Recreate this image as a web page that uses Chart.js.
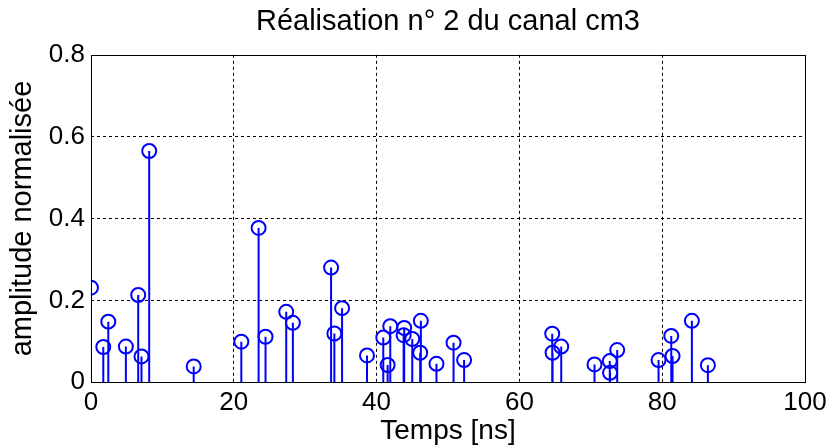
<!DOCTYPE html>
<html>
<head>
<meta charset="utf-8">
<script src="https://cdn.jsdelivr.net/npm/chart.js@4/dist/chart.umd.min.js"></script>
<style>
  html, body { margin: 0; padding: 0; background: #fff; }
  #wrap { width: 832px; height: 448px; }
</style>
</head>
<body>
<div id="wrap"><canvas id="myChart"></canvas></div>
<script>
// données
var temps = [0.0, 1.73, 2.43, 4.89, 6.62, 7.08, 8.16, 14.39, 21.06, 23.48, 24.45, 27.35, 28.28,
  33.63, 34.09, 35.17, 38.66, 40.94, 41.55, 41.92, 43.79, 43.87, 45.0, 46.11, 46.2, 48.39,
  50.78, 52.26, 64.6, 64.65, 65.86, 70.52, 72.66, 72.7, 73.7, 79.49, 81.27, 81.45, 84.16, 86.4];
var amplitude = [0.231, 0.086, 0.148, 0.087, 0.213, 0.063, 0.565, 0.0385, 0.099, 0.377, 0.111, 0.172, 0.145,
  0.28, 0.119, 0.181, 0.0655, 0.109, 0.042, 0.137, 0.115, 0.1325, 0.1055, 0.072, 0.15, 0.045,
  0.0965, 0.054, 0.1185, 0.072, 0.087, 0.0434, 0.0515, 0.023, 0.0785, 0.054, 0.113, 0.064, 0.15, 0.0417];
var xTicks = [0, 20, 40, 60, 80, 100];
var yTicks = [0, 0.2, 0.4, 0.6, 0.8];

var titre = 'Réalisation n° 2 du canal cm3';
var titreX = 'Temps [ns]';
var titreY = 'amplitude normalisée';

// tiges : segments (t,0)-(t,a) séparés par des trous
var tiges = [];
var cercles = [];
for (var i = 0; i < temps.length; i++) {
  tiges.push({x: temps[i], y: 0});
  tiges.push({x: temps[i], y: amplitude[i]});
  tiges.push({x: temps[i], y: null});
  cercles.push({x: temps[i], y: amplitude[i]});
}

// cadre autour de la zone de tracé + titre centré sur les axes
var cadre = {
  id: 'cadre',
  afterLayout: function(chart) {
    var t = chart.titleBlock, a = chart.chartArea;
    if (t) {
      t.left = a.left;
      t.right = a.right;
      t.width = a.right - a.left;
    }
  },
  afterDraw: function(chart) {
    var a = chart.chartArea, c = chart.ctx;
    c.save();
    c.strokeStyle = '#000';
    c.lineWidth = 1;
    c.strokeRect(Math.round(a.left) + 0.5, Math.round(a.top) + 0.5,
      Math.round(a.right - a.left), Math.round(a.bottom - a.top));
    c.restore();
  }
};

var police = "'Liberation Sans', Arial, sans-serif";

// pas de grille sur les bords (le cadre s'en charge)
function grille(ctx) {
  var n = ctx.scale.ticks.length;
  return (ctx.index === 0 || ctx.index === n - 1) ? 'rgba(0,0,0,0)' : '#000';
}

new Chart(document.getElementById('myChart'), {
  type: 'line',
  data: {
    datasets: [
      {
        data: tiges,
        borderColor: '#0000ff',
        borderWidth: 2,
        pointRadius: 0,
        spanGaps: false,
        tension: 0
      },
      {
        type: 'scatter',
        data: cercles,
        showLine: false,
        pointStyle: 'circle',
        pointRadius: 7,
        pointBorderWidth: 2,
        pointBorderColor: '#0000ff',
        pointBackgroundColor: 'rgba(0,0,0,0)'
      }
    ]
  },
  options: {
    responsive: true,
    maintainAspectRatio: false,
    animation: false,
    layout: { padding: { left: 6, right: 27, top: 2, bottom: 0 } },
    plugins: {
      legend: { display: false },
      tooltip: { enabled: false },
      title: {
        display: true,
        text: titre,
        color: '#000',
        font: { family: police, size: 29, weight: 'normal' },
        padding: { top: 3, bottom: 15 }
      }
    },
    scales: {
      x: {
        type: 'linear',
        min: 0, max: 100,
        afterBuildTicks: function(s) { s.ticks = xTicks.map(function(v) { return {value: v}; }); },
        ticks: { color: '#000', font: { family: police, size: 26 }, padding: 5, maxRotation: 0 },
        grid: { color: grille, drawTicks: false },
        border: { display: false, dash: [3, 3] },
        title: { display: true, text: titreX, color: '#000', font: { family: police, size: 28 }, padding: { top: -9, bottom: 0 } }
      },
      y: {
        type: 'linear',
        min: 0, max: 0.8,
        afterBuildTicks: function(s) { s.ticks = yTicks.map(function(v) { return {value: v}; }); },
        ticks: {
          color: '#000', font: { family: police, size: 26 }, padding: 6,
          callback: function(v) { return String(Math.round(v * 10) / 10); }
        },
        grid: { color: grille, drawTicks: false },
        border: { display: false, dash: [3, 3] },
        title: { display: true, text: titreY, color: '#000', font: { family: police, size: 29 }, padding: { top: 0, bottom: 2 } }
      }
    }
  },
  plugins: [cadre]
});
</script>
</body>
</html>
